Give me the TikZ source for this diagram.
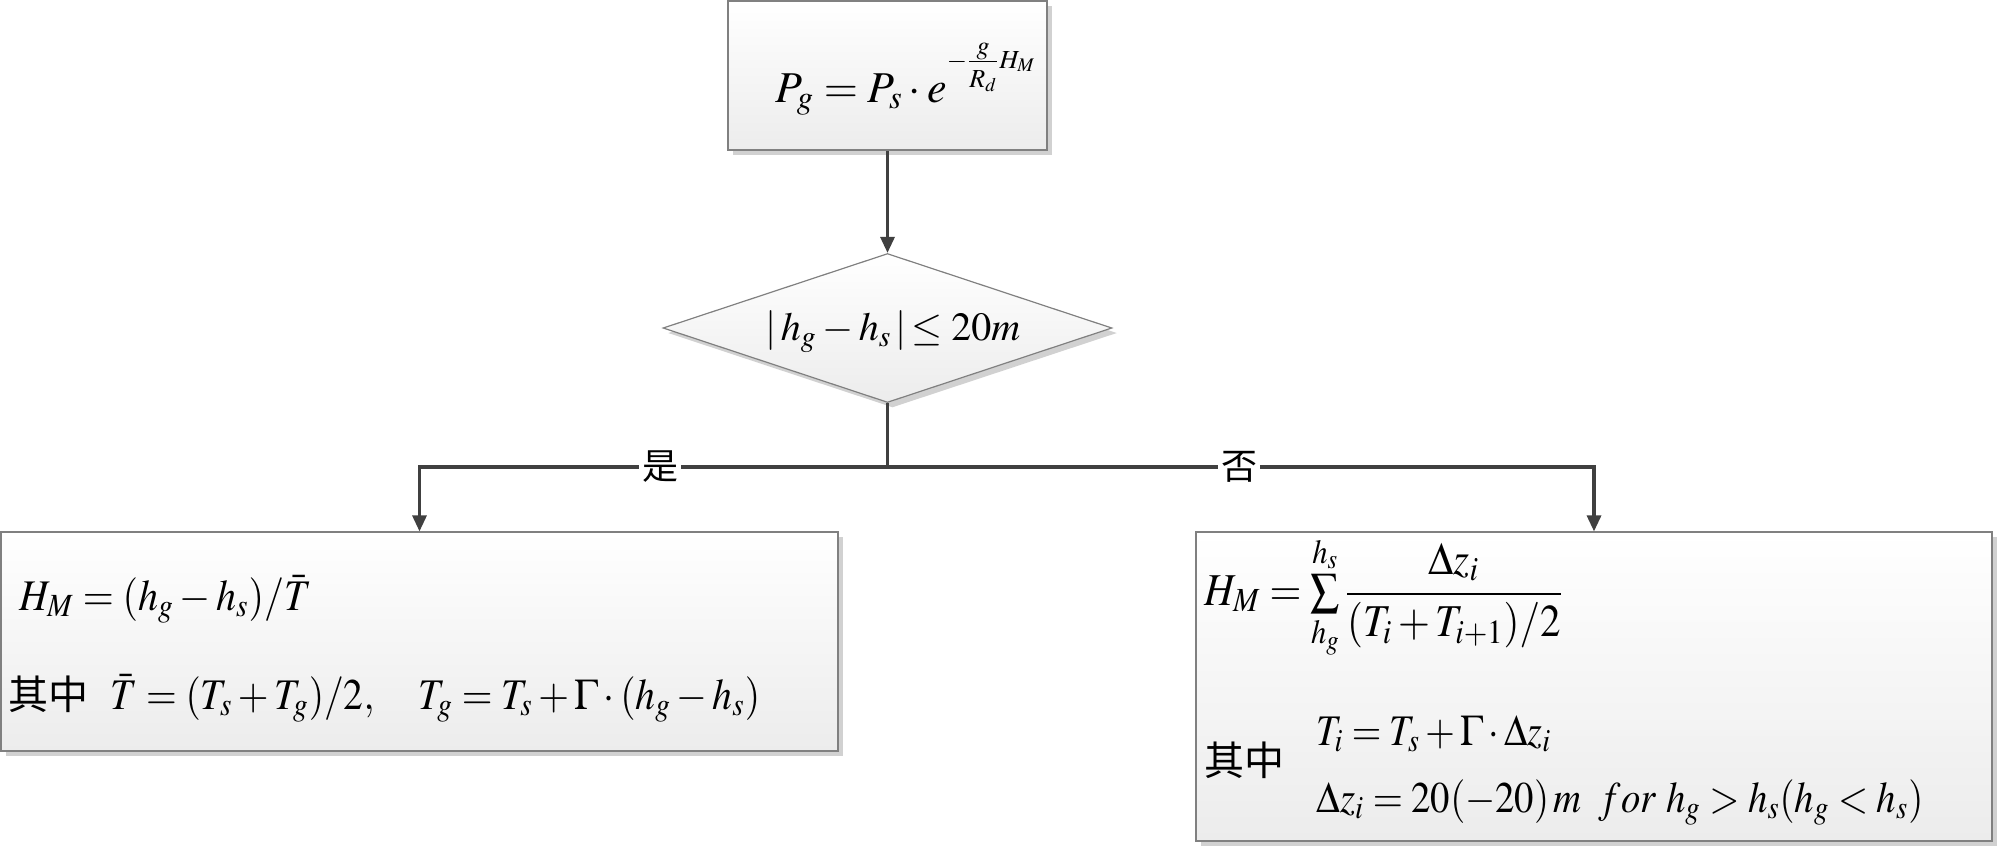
\documentclass[tikz,border=0pt]{standalone}
\usepackage{amsmath}
\usepackage{mathptmx}
\usepackage{fontspec}
\setmainfont{Liberation Serif}
\newfontfamily\cjk{Noto Sans CJK SC}
\usetikzlibrary{arrows.meta,shapes.geometric,shadows}
\definecolor{boxline}{RGB}{128,128,128}
\definecolor{boxbot}{RGB}{236,236,236}
\definecolor{conncol}{RGB}{64,64,64}
\begin{document}
\begin{tikzpicture}[x=0.5pt,y=-0.5pt,
  shapebase/.style={draw=boxline, line width=0.6pt, top color=white, bottom color=boxbot,
    drop shadow={shadow xshift=2.5pt, shadow yshift=-2.5pt, fill=black, opacity=0.18}},
  box/.style={shapebase, rectangle, inner sep=0pt},
  dia/.style={shapebase, diamond, aspect=3, inner sep=0pt},
  conn/.style={draw=conncol, line width=1.6pt},
  arr/.style={conn, -{Triangle[length=8pt,width=7pt]}},
  lbl/.style={fill=white, inner sep=1.5pt, text=black, font=\cjk\fontsize{18}{20}\selectfont},
  txt/.style={anchor=base west, inner sep=0pt, font=\fontsize{19}{23}\selectfont},
  cn/.style={anchor=base west, inner sep=0pt, font=\cjk\fontsize{20}{24}\selectfont}
]
\useasboundingbox (0,0) rectangle (2000,847);

% boxes
\node[box, minimum width=159.5pt, minimum height=74.5pt] (top) at (887.5,75.5) {};
\node[dia, minimum width=224.5pt, minimum height=74.5pt] (dec) at (887.5,328) {};
\node[box, minimum width=418.5pt, minimum height=109.5pt] (lbox) at (419.5,641.5) {};
\node[box, minimum width=398pt, minimum height=154.5pt] (rbox) at (1594,686.5) {};

% texts
\node[txt, font=\fontsize{22}{26}\selectfont] (tf) at (775,102)
  {$P_g = P_s\cdot e^{\raisebox{9pt}{\fontsize{13}{15}\selectfont$-\frac{\textstyle g}{\rule{0pt}{12pt}\textstyle R_d}H_M$}}$};
\node[txt, font=\fontsize{20}{24}\selectfont] (df) at (765,340) {$|\,h_g - h_s\,|\!\le 20m$};

\node[txt] (l1) at (19,610) {\scalebox{1.05}[1.15]{$H_M = (h_g - h_s)/\bar{T}$}};
\node[cn] (lc) at (8,709) {其中};
\node[txt] (l2) at (110,709) {\scalebox{1.04}[1.15]{$\bar{T} = (T_s + T_g)/2,\quad T_g = T_s + \Gamma\cdot(h_g - h_s)$}};

\node[txt] (r1) at (1204,605) {\scalebox{1.08}[1.2]{$H_M = \sum\limits_{h_g}^{h_s}\dfrac{\Delta z_i}{(T_i + T_{i+1})/2}$}};
\node[cn] (rc) at (1204,775) {其中};
\node[txt] (r2) at (1316,745) {\scalebox{1}[1.15]{$T_i = T_s + \Gamma\cdot\Delta z_i$}};
\node[txt] (r3) at (1316,812) {\scalebox{1.02}[1.15]{$\Delta z_i = 20(-20)\,m\;\; for\ h_g > h_s(h_g < h_s)$}};

% connectors
\draw[arr] (top.south) -- (dec.north);
\coordinate (j) at (887.5,467);
\draw[conn] (dec.south) -- (j);
\draw[arr] (j) -| node[lbl, pos=0.243] {是} (lbox.north);
\draw[arr] (j) -| node[lbl, pos=0.249] {否} (rbox.north);
\end{tikzpicture}
\end{document}
